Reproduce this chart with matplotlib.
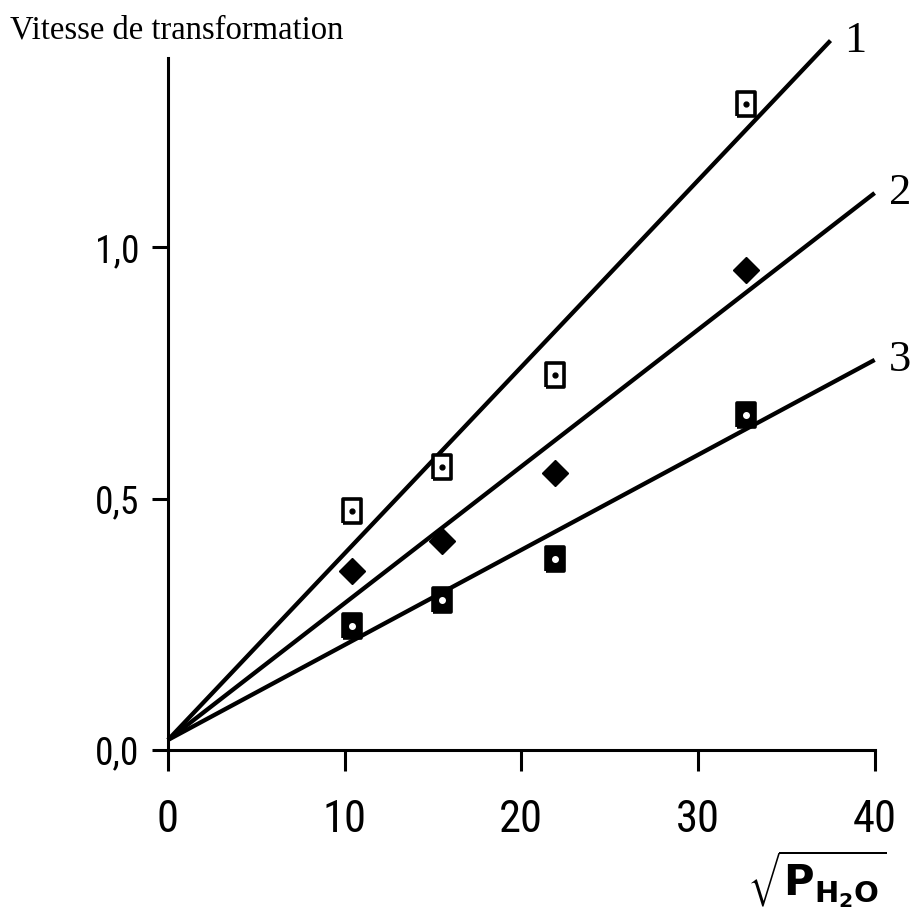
import matplotlib
matplotlib.use("Agg")
from matplotlib import pyplot as plt

# sqrt(P_H2O) values and measured rates
x_points = [10.4, 15.5, 21.9, 32.7]
rate_1 = [0.475, 0.563, 0.745, 1.286]
rate_2 = [0.356, 0.415, 0.551, 0.954]
rate_3 = [0.247, 0.298, 0.380, 0.666]

# fitted straight lines: intercept, slope, last x
intercepts = [0.02, 0.02, 0.02]
slopes = [0.0371, 0.0272, 0.0189]
x_ends = [37.5, 40.0, 40.0]
line_names = ["1", "2", "3"]

x_ticks = [0, 10, 20, 30, 40]
y_ticks = [0.0, 0.5, 1.0]
y_tick_labels = ["0,0", "0,5", "1,0"]

sans = ["Roboto Condensed", "DejaVu Sans"]
serif = ["Liberation Serif", "DejaVu Serif"]

fig = plt.figure(figsize=(9.13, 9.21), dpi=100)
ax = fig.add_axes([0.184, 0.1857, 0.774, 0.751])
ax.set_xlim(0, 40)
ax.set_ylim(0, 1.376)

for b, m, xe in zip(intercepts, slopes, x_ends):
    ax.plot([0, xe], [b, b + m * xe], color="black", lw=3.1,
            solid_capstyle="butt", clip_on=False, zorder=2)

rect = [(-0.8, -1), (0.8, -1), (0.8, 1), (-0.8, 1), (-0.8, -1)]

# series 1: open rectangles with a centre dot
ax.plot(x_points, rate_1, ls="none", marker=rect, ms=17, mfc="white",
        mec="black", mew=2.6, zorder=3)
ax.plot(x_points, rate_1, ls="none", marker="o", ms=3.5, color="black", zorder=4)

# series 2: filled diamonds
ax.plot(x_points, rate_2, ls="none", marker="D", ms=13, color="black", zorder=3)

# series 3: dark rectangles with a white centre
ax.plot(x_points, rate_3, ls="none", marker=rect, ms=17, mfc="black",
        mec="black", mew=2.6, zorder=3)
ax.plot(x_points, rate_3, ls="none", marker="o", ms=4, color="white", zorder=4)

for name, b, m, xe in zip(line_names, intercepts, slopes, x_ends):
    ax.text(xe + 0.8, b + m * xe, name, fontsize=32, family=serif,
            ha="left", va="center")

for side in ["top", "right"]:
    ax.spines[side].set_visible(False)
ax.spines["left"].set_linewidth(2.2)
ax.spines["bottom"].set_linewidth(2.2)

ax.set_xticks(x_ticks)
ax.set_xticklabels([str(v) for v in x_ticks], family=sans, fontsize=32)
ax.set_yticks(y_ticks)
ax.set_yticklabels(y_tick_labels, family=sans, fontsize=27)
ax.tick_params(axis="x", direction="out", length=15, width=2.2, pad=20)
ax.tick_params(axis="y", direction="out", length=11.5, width=2.2, pad=9)

fig.text(0.011, 0.967, "Vitesse de transformation", family=serif,
         fontsize=23.5, ha="left", va="center")
fig.text(0.895, 0.045, r"$\sqrt{\mathbf{P}_{\mathbf{H_2O}}}$", fontsize=30,
         ha="center", va="center")

fig.savefig("out.png", dpi=100)
